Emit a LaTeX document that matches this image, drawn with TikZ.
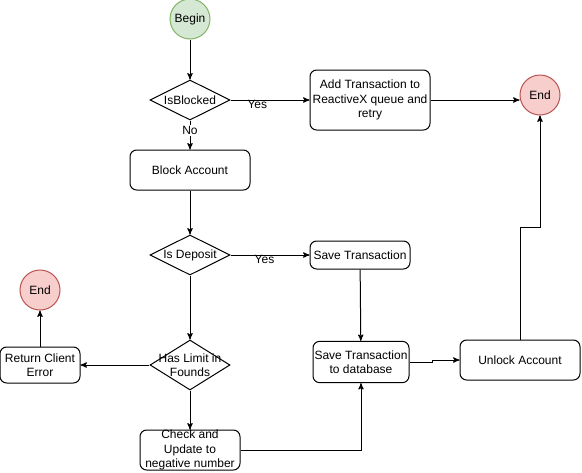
\documentclass[tikz,border=0pt]{standalone}
\usepackage{tikz}
\usepackage{xcolor}
\usepackage{fontspec}
\setmainfont{Liberation Sans}
\usetikzlibrary{shapes.geometric, positioning, arrows}
\definecolor{okfill}{HTML}{D5E8D4}
\definecolor{okline}{HTML}{82B366}
\definecolor{stopfill}{HTML}{F8CECC}
\definecolor{stopline}{HTML}{B85450}

\begin{document}
\begin{tikzpicture}[->,>=stealth',x=0.75pt,y=-0.75pt,line width=0.75pt,
        font=\fontsize{9}{10.8}\selectfont,
        begin node/.style={circle,draw=okline,fill=okfill,minimum size=30pt,inner sep=0pt},
        end node/.style={circle,draw=stopline,fill=stopfill,minimum size=30pt,inner sep=0pt},
        task node/.style={rectangle,rounded corners=5pt,draw,align=center,inner sep=0pt},
        test node/.style={diamond,draw,aspect=2,minimum width=60pt,minimum height=30pt,inner sep=0pt}]

        \useasboundingbox (0,0) rectangle (582,472);

        \node[begin node] (begin) at (190,19) {Begin};
        \node[test node] (blocked) at (190,100) {IsBlocked};
        \node[task node,minimum width=90pt,minimum height=45pt] (queue) at (370,100) {Add Transaction to\\ReactiveX queue and\\retry};
        \node[end node] (end1) at (540,95) {End};
        \node[task node,minimum width=90pt,minimum height=30pt] (lock) at (190,170) {Block Account};
        \node[test node] (deposit) at (190,255) {Is Deposit};
        \node[task node,minimum width=75pt,minimum height=21pt] (save) at (360,255) {Save Transaction};
        \node[test node,minimum height=37.5pt,label={[align=center]center:Has Limit in\\Founds}] (limit) at (190,365) {};
        \node[task node,minimum width=60pt,minimum height=27pt] (error) at (40,365) {Return Client\\Error};
        \node[end node] (end2) at (40,290) {End};
        \node[task node,minimum width=72pt,minimum height=31pt] (store) at (361,362) {Save Transaction\\to database};
        \node[task node,minimum width=90pt,minimum height=30pt] (unlock) at (520,360) {Unlock Account};
        \node[task node,minimum width=75pt,minimum height=30pt,label={[align=center]center:Check and\\Update to\\negative number}] (update) at (190,450) {};

        \path[every node/.style={font=\fontsize{9}{10.8}\selectfont}]
            (begin) edge (blocked)
            (blocked) edge node [pos=0.35,fill=white,inner sep=1pt] {No} (lock)
            (blocked) edge node [pos=0.34,yshift=-3.5pt] {Yes} (queue)
            (lock) edge (deposit)
            (deposit) edge node [pos=0.43,yshift=-3.5pt] {Yes} (save)
            (deposit) edge (limit)
            (limit) edge (error)
            (error) edge (end2)
            (limit) edge (update)
            (save) edge (store);

        \draw (queue.east) -- (queue.east -| end1.west);
        \draw (update.east) -| (store.south);
        \draw (store.east) -- ++(23,0) |- (unlock.west);
        \draw (unlock.north) -- ++(0,-112) -| (end1.south);
\end{tikzpicture}
\end{document}
